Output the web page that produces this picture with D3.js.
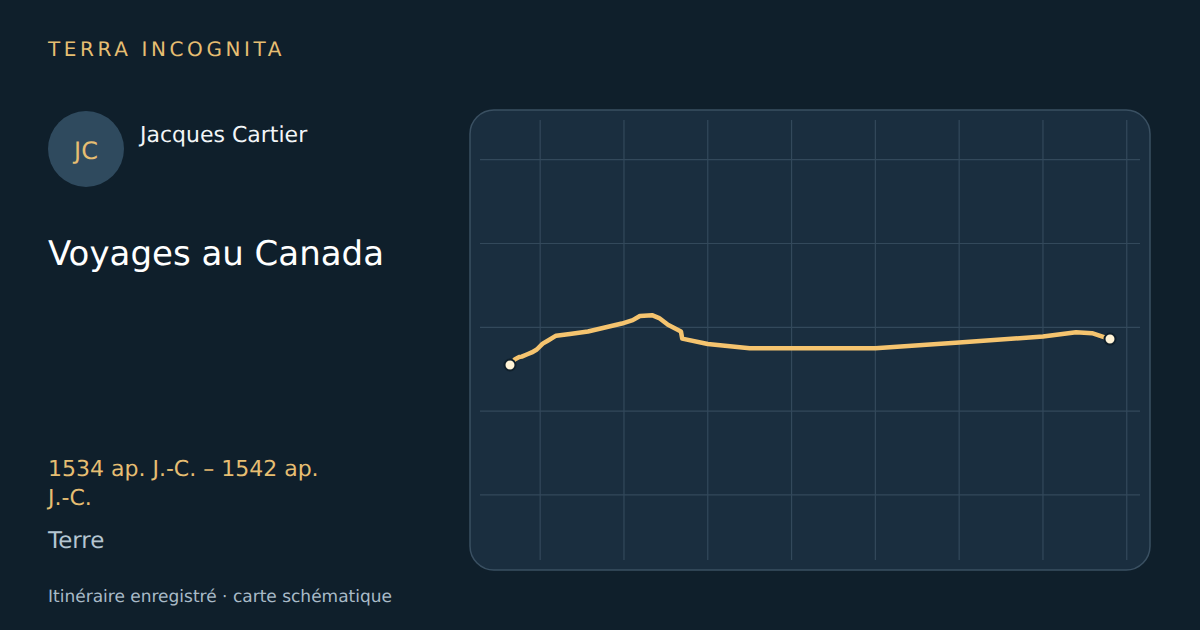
<!DOCTYPE html>
<html>
<head>
<meta charset="utf-8">
<script src="https://cdn.jsdelivr.net/npm/d3@7"></script>
<style>
  html, body { margin: 0; padding: 0; background: #0f1f2b; }
  svg { display: block; font-family: "DejaVu Sans", sans-serif; text-rendering: geometricPrecision; }
</style>
</head>
<body>
<svg id="chart" width="1200" height="630"></svg>
<script>
// route, west to east
const lons = [-73.6, -73.0, -72.5, -72.2, -71.6, -71.0, -70.4, -69.7, -69.1, -68.1, -66.45, -64.3, -62.4, -60.25, -58.95, -58.1, -56.65, -55.8, -54.75, -53.2, -53.05, -50, -45, -30, -20, -10, -6.05, -4.15, -2];
const lats = [45.5, 46.2, 46.45, 46.5, 46.75, 47.0, 47.35, 48.05, 48.4, 49.0, 49.2, 49.5, 49.95, 50.45, 50.85, 51.35, 51.45, 51.1, 50.3, 49.5, 48.65, 48.0, 47.5, 47.5, 48.2, 48.9, 49.4, 49.3, 48.6];
const lonTicks = [-70, -60, -50, -40, -30, -20, -10, 0];
const latTicks = [70, 60, 50, 40, 30];
const dateLines = ['1534 ap. J.-C. – 1542 ap.', 'J.-C.'];

const panel = { x: 470, y: 110, w: 680, h: 460 };
const inner = { left: 480, right: 1140, top: 120, bottom: 560 };

const svg = d3.select('#chart');

// same px per degree on both axes
const x = d3.scaleLinear().domain([-73.6, -2]).range([510, 1110]);
const y = d3.scaleLinear().domain([50, 40]).range([327.3, 411.1]);

svg.append('rect').attr('width', 1200).attr('height', 630).attr('fill', '#0f1f2b');

// left column
svg.append('text')
  .attr('x', 48).attr('y', 56)
  .attr('fill', '#e6be72')
  .attr('font-size', 20)
  .attr('letter-spacing', 3.6)
  .text('TERRA INCOGNITA');

svg.append('circle')
  .attr('cx', 86).attr('cy', 149).attr('r', 38)
  .attr('fill', '#2f4a5e');

svg.append('text')
  .attr('x', 86).attr('y', 158.5)
  .attr('text-anchor', 'middle')
  .attr('fill', '#e6be72')
  .attr('font-size', 24)
  .text('JC');

svg.append('text')
  .attr('x', 140).attr('y', 142)
  .attr('fill', '#f2f5f7')
  .attr('font-size', 22)
  .text('Jacques Cartier');

svg.append('text')
  .attr('x', 48).attr('y', 265)
  .attr('fill', '#ffffff')
  .attr('font-size', 34)
  .text('Voyages au Canada');

svg.selectAll('.dates')
  .data(dateLines)
  .join('text')
  .attr('class', 'dates')
  .attr('x', 48)
  .attr('y', (d, i) => 476 + i * 29)
  .attr('fill', '#e6be72')
  .attr('font-size', 22)
  .text(d => d);

svg.append('text')
  .attr('x', 48).attr('y', 548)
  .attr('fill', '#b4c5d1')
  .attr('font-size', 23)
  .text('Terre');

svg.append('text')
  .attr('x', 48).attr('y', 602)
  .attr('fill', '#a9bbc8')
  .attr('font-size', 17)
  .text('Itinéraire enregistré · carte schématique');

// map panel
svg.append('rect')
  .attr('x', panel.x).attr('y', panel.y)
  .attr('width', panel.w).attr('height', panel.h)
  .attr('rx', 24)
  .attr('fill', '#1a2e3f')
  .attr('stroke', '#3a5062')
  .attr('stroke-width', 1.5);

svg.selectAll('.lon')
  .data(lonTicks)
  .join('line')
  .attr('class', 'lon')
  .attr('x1', d => x(d)).attr('x2', d => x(d))
  .attr('y1', inner.top).attr('y2', inner.bottom)
  .attr('stroke', '#33495b')
  .attr('stroke-width', 1.2);

svg.selectAll('.lat')
  .data(latTicks)
  .join('line')
  .attr('class', 'lat')
  .attr('x1', inner.left).attr('x2', inner.right)
  .attr('y1', d => y(d)).attr('y2', d => y(d))
  .attr('stroke', '#33495b')
  .attr('stroke-width', 1.2);

const route = d3.line()
  .x(i => x(lons[i]))
  .y(i => y(lats[i]));

svg.append('path')
  .attr('d', route(d3.range(lons.length)))
  .attr('fill', 'none')
  .attr('stroke', '#f5c46f')
  .attr('stroke-width', 4.5)
  .attr('stroke-linejoin', 'round')
  .attr('stroke-linecap', 'round');

// end points
const last = lons.length - 1;
svg.selectAll('.stop')
  .data([0, last])
  .join('circle')
  .attr('class', 'stop')
  .attr('cx', i => x(lons[i]))
  .attr('cy', i => y(lats[i]))
  .attr('r', 5.5)
  .attr('fill', '#fff3d6')
  .attr('stroke', '#0f1f2b')
  .attr('stroke-width', 2);
</script>
</body>
</html>
